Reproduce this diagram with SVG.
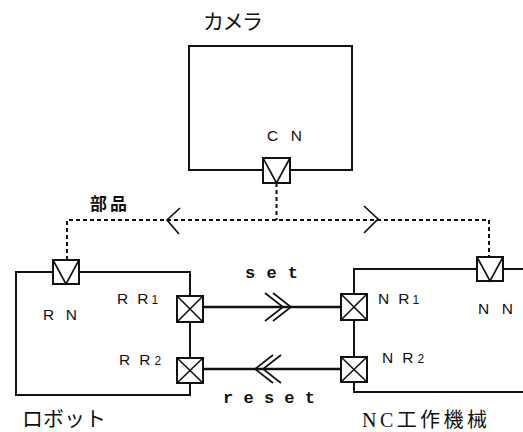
<svg xmlns="http://www.w3.org/2000/svg" width="523" height="432" viewBox="0 0 523 432">
<style>
.box{fill:none;stroke:#111;stroke-width:2}
.port{fill:#fff;stroke:#111;stroke-width:2}
.mark{fill:none;stroke:#111;stroke-width:1.6}
.dot{fill:none;stroke:#111;stroke-width:2;stroke-dasharray:4 3}
.wire{fill:none;stroke:#111;stroke-width:2.5}
.chev{fill:none;stroke:#111;stroke-width:1.7}
.lbl{font-family:"Liberation Sans",Arial,sans-serif;font-size:15.5px;fill:#111}
.sub{font-size:12px}
.jp{font-family:"Noto Sans CJK JP","Noto Sans CJK SC",sans-serif;fill:#111}
.mono{font-family:"Liberation Mono","Courier New",monospace;font-weight:bold;font-size:17px;fill:#111}
</style>
<rect width="523" height="432" fill="#fff"/>

<g id="connectors">
  <polyline class="dot" points="276.5,183 276.5,220"/>
  <polyline class="dot" points="67,260 67,220 489,220 489,257"/>
  <polyline class="chev" points="180,208 167,220 179,234"/>
  <polyline class="chev" points="364,206 378,219 364,233"/>
  <line class="wire" x1="203" y1="307" x2="341" y2="307"/>
  <polyline class="chev" points="265,293 283,307 265,321"/>
  <polyline class="chev" points="273,293 291,307 273,321"/>
  <line class="wire" x1="203" y1="369" x2="341" y2="369"/>
  <polyline class="chev" points="273,355 255,369 273,383"/>
  <polyline class="chev" points="281,355 263,369 281,383"/>
  <text class="jp" x="90" y="210" font-size="17" font-weight="bold" textLength="37" lengthAdjust="spacing">部品</text>
  <text class="mono" x="245" y="278" textLength="53" lengthAdjust="spacing">set</text>
  <text class="mono" x="223" y="403" textLength="92" lengthAdjust="spacing">reset</text>
</g>

<g id="camera">
  <rect class="box" x="189" y="46" width="163" height="124"/>
  <text class="jp" x="203" y="29" font-size="21" textLength="60" lengthAdjust="spacing">カメラ</text>
</g>
<g id="CN">
  <rect class="port" x="263" y="158" width="27" height="25"/>
  <polyline class="mark" points="263,158 276.5,183 290,158"/>
  <text class="lbl" x="267" y="141" textLength="35" lengthAdjust="spacing">CN</text>
</g>

<g id="robot">
  <rect class="box" x="16" y="272" width="174" height="123"/>
  <text class="jp" x="22" y="426" font-size="21" textLength="84" lengthAdjust="spacing">ロボット</text>
</g>
<g id="RN">
  <rect class="port" x="53" y="260" width="26" height="24"/>
  <polyline class="mark" points="53,260 66,284 79,260"/>
  <text class="lbl" x="43" y="320" textLength="34" lengthAdjust="spacing">RN</text>
</g>
<g id="RR1">
  <rect class="port" x="177" y="296" width="26" height="26"/>
  <path class="mark" d="M177,296 L203,322 M203,296 L177,322"/>
  <text class="lbl" x="117" y="304">R<tspan dx="9">R</tspan><tspan class="sub" dx="3">1</tspan></text>
</g>
<g id="RR2">
  <rect class="port" x="177" y="358" width="26" height="25"/>
  <path class="mark" d="M177,358 L203,383 M203,358 L177,383"/>
  <text class="lbl" x="119" y="365">R<tspan dx="9">R</tspan><tspan class="sub" dx="4">2</tspan></text>
</g>

<g id="nc">
  <polyline class="box" points="523,269 354,269 354,392 523,392"/>
  <text x="362" y="427" font-size="20" font-family="'Liberation Serif','Noto Sans CJK JP',serif" fill="#111" textLength="125" lengthAdjust="spacing">NC工作機械</text>
</g>
<g id="NN">
  <rect class="port" x="477" y="257" width="26" height="24"/>
  <polyline class="mark" points="477,257 490,281 503,257"/>
  <text class="lbl" x="478" y="314" textLength="35" lengthAdjust="spacing">NN</text>
</g>
<g id="NR1">
  <rect class="port" x="341" y="294" width="26" height="26"/>
  <path class="mark" d="M341,294 L367,320 M367,294 L341,320"/>
  <text class="lbl" x="378" y="304">N<tspan dx="9">R</tspan><tspan class="sub" dx="3">1</tspan></text>
</g>
<g id="NR2">
  <rect class="port" x="341" y="357" width="26" height="25"/>
  <path class="mark" d="M341,357 L367,382 M367,357 L341,382"/>
  <text class="lbl" x="382" y="363">N<tspan dx="9">R</tspan><tspan class="sub" dx="4">2</tspan></text>
</g>
</svg>
